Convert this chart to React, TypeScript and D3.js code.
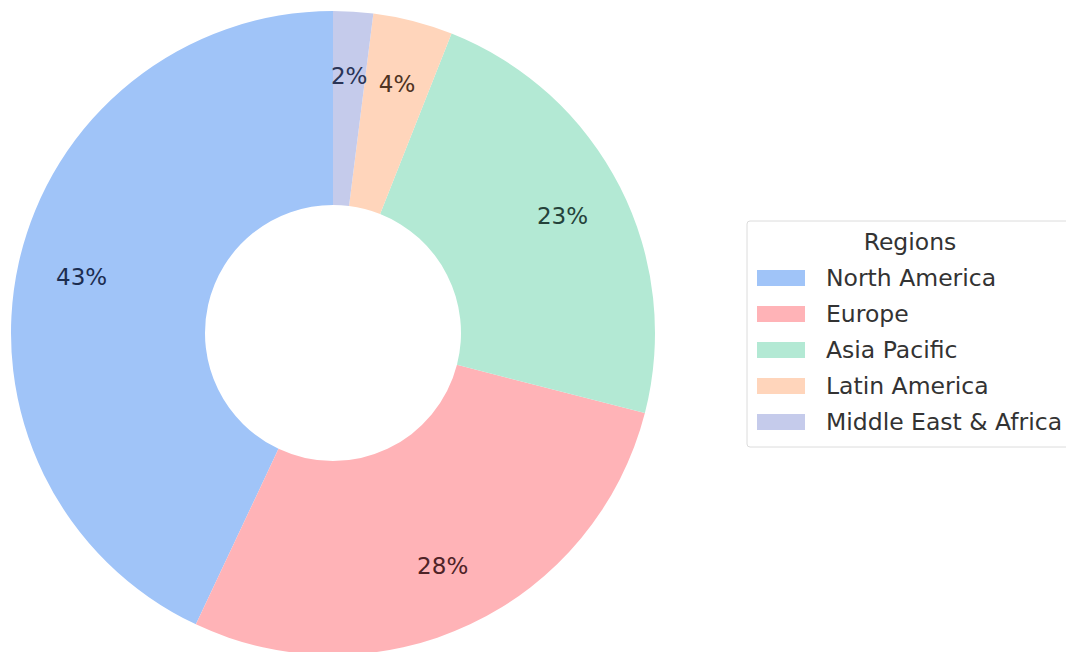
import React from "react";
import * as d3 from "d3";

const regions = ["North America", "Europe", "Asia Pacific", "Latin America", "Middle East & Africa"];
const shares = [43, 28, 23, 4, 2];
const fills = ["#a0c4f8", "#ffb3b7", "#b3e9d4", "#ffd5bb", "#c5cbeb"];
const labelColors = ["#1c2d50", "#4e2327", "#25423a", "#4e3322", "#2a3456"];

const W = 1066;
const H = 652;
const cx = 333;
const cy = 333;
const R = 322;
const r0 = 128;

export default function App() {
  const pie = d3
    .pie<number>()
    .sort(null)
    .startAngle(0)
    .endAngle(-2 * Math.PI)
    .value((d) => d);
  const arcs = pie(shares);
  const arcGen = d3.arc<d3.PieArcDatum<number>>().innerRadius(r0).outerRadius(R);
  const labelArc = d3.arc<d3.PieArcDatum<number>>().innerRadius(R * 0.8).outerRadius(R * 0.8);
  const total = d3.sum(shares);

  const legX = 747;
  const legY = 221;
  const legW = 340;
  const legH = 226;

  return (
    <svg
      width={W}
      height={H}
      style={{ position: "fixed", left: 0, top: 0, display: "block", background: "#fff" }}
      fontFamily="DejaVu Sans"
    >
      <g transform={`translate(${cx},${cy})`}>
        {arcs.map((a, i) => (
          <path key={regions[i]} d={arcGen(a) || ""} fill={fills[i]} />
        ))}
        {arcs.map((a, i) => {
          const [x, y] = labelArc.centroid(a);
          return (
            <text
              key={"l" + i}
              x={x}
              y={y}
              textAnchor="middle"
              dominantBaseline="central"
              fontSize={23}
              fill={labelColors[i]}
            >
              {`${Math.round((shares[i] / total) * 100)}%`}
            </text>
          );
        })}
      </g>
      <g>
        <rect x={legX} y={legY} width={legW} height={legH} rx={3} fill="#fff" stroke="#dcdcdc" strokeWidth={1} />
        <text x={910} y={242} textAnchor="middle" dominantBaseline="central" fontSize={23.5} fill="#333">
          Regions
        </text>
        {regions.map((name, i) => (
          <g key={name} transform={`translate(0,${278 + i * 36})`}>
            <rect x={757} y={-8} width={48} height={16} fill={fills[i]} />
            <text x={826} y={0} dominantBaseline="central" fontSize={23.5} fill="#333">
              {name}
            </text>
          </g>
        ))}
      </g>
    </svg>
  );
}
